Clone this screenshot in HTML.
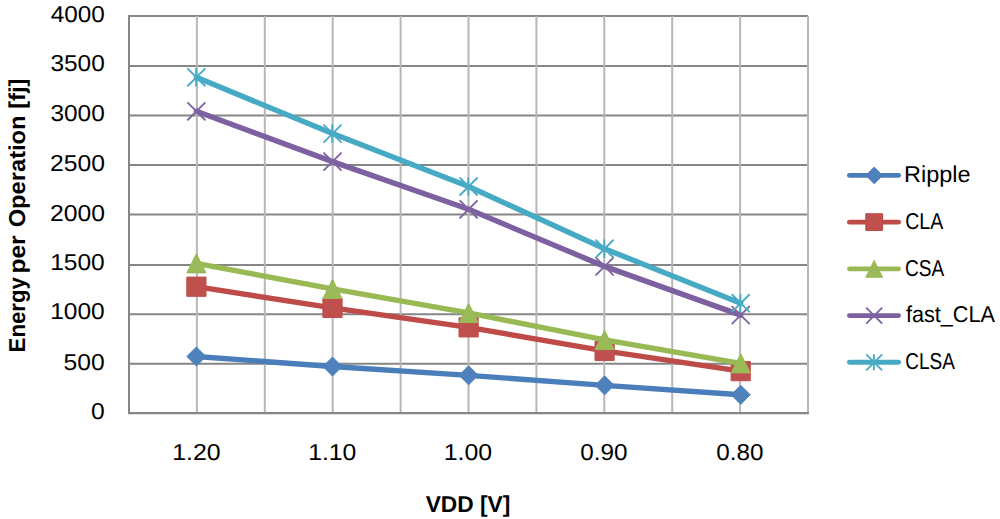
<!DOCTYPE html>
<html><head><meta charset="utf-8"><style>
html,body{margin:0;padding:0;background:#fff;}
body{width:1000px;height:519px;overflow:hidden;}
svg{display:block;}
text{font-family:"Liberation Sans",sans-serif;fill:#000;text-rendering:geometricPrecision;}
.b{font-weight:bold;}
</style></head><body>
<svg width="1000" height="519" viewBox="0 0 1000 519">
<rect width="1000" height="519" fill="#fff"/>
<line x1="128.00" y1="15.90" x2="808.00" y2="15.90" stroke="#868686" stroke-width="2"/>
<line x1="128.00" y1="66.10" x2="808.00" y2="66.10" stroke="#868686" stroke-width="2"/>
<line x1="128.00" y1="115.40" x2="808.00" y2="115.40" stroke="#868686" stroke-width="2"/>
<line x1="128.00" y1="164.90" x2="808.00" y2="164.90" stroke="#868686" stroke-width="2"/>
<line x1="128.00" y1="214.40" x2="808.00" y2="214.40" stroke="#868686" stroke-width="2"/>
<line x1="128.00" y1="264.90" x2="808.00" y2="264.90" stroke="#868686" stroke-width="2"/>
<line x1="128.00" y1="314.30" x2="808.00" y2="314.30" stroke="#868686" stroke-width="2"/>
<line x1="128.00" y1="363.70" x2="808.00" y2="363.70" stroke="#868686" stroke-width="2"/>
<line x1="196.90" y1="15.90" x2="196.90" y2="413.10" stroke="#B7B7B7" stroke-width="2"/>
<line x1="264.80" y1="15.90" x2="264.80" y2="413.10" stroke="#B7B7B7" stroke-width="2"/>
<line x1="332.70" y1="15.90" x2="332.70" y2="413.10" stroke="#B7B7B7" stroke-width="2"/>
<line x1="400.60" y1="15.90" x2="400.60" y2="413.10" stroke="#B7B7B7" stroke-width="2"/>
<line x1="468.50" y1="15.90" x2="468.50" y2="413.10" stroke="#B7B7B7" stroke-width="2"/>
<line x1="536.40" y1="15.90" x2="536.40" y2="413.10" stroke="#B7B7B7" stroke-width="2"/>
<line x1="604.30" y1="15.90" x2="604.30" y2="413.10" stroke="#B7B7B7" stroke-width="2"/>
<line x1="672.20" y1="15.90" x2="672.20" y2="413.10" stroke="#B7B7B7" stroke-width="2"/>
<line x1="740.10" y1="15.90" x2="740.10" y2="413.10" stroke="#B7B7B7" stroke-width="2"/>
<line x1="808.00" y1="15.90" x2="808.00" y2="413.10" stroke="#B7B7B7" stroke-width="2"/>
<line x1="129.00" y1="14.90" x2="129.00" y2="414.10" stroke="#868686" stroke-width="2"/>
<line x1="128.00" y1="413.10" x2="809.00" y2="413.10" stroke="#868686" stroke-width="2.4"/>
<polyline points="196.40,356.50 332.50,366.55 468.60,375.35 604.60,385.35 740.70,394.75" fill="none" stroke="#4A7EBB" stroke-width="5.4" stroke-linejoin="round" stroke-linecap="round"/>
<path d="M196.40 347.00L205.90 356.50L196.40 366.00L186.90 356.50Z" fill="#4F81BD" stroke="#4A7EBB" stroke-width="1.0" stroke-linejoin="round"/>
<path d="M332.50 357.05L342.00 366.55L332.50 376.05L323.00 366.55Z" fill="#4F81BD" stroke="#4A7EBB" stroke-width="1.0" stroke-linejoin="round"/>
<path d="M468.60 365.85L478.10 375.35L468.60 384.85L459.10 375.35Z" fill="#4F81BD" stroke="#4A7EBB" stroke-width="1.0" stroke-linejoin="round"/>
<path d="M604.60 375.85L614.10 385.35L604.60 394.85L595.10 385.35Z" fill="#4F81BD" stroke="#4A7EBB" stroke-width="1.0" stroke-linejoin="round"/>
<path d="M740.70 385.25L750.20 394.75L740.70 404.25L731.20 394.75Z" fill="#4F81BD" stroke="#4A7EBB" stroke-width="1.0" stroke-linejoin="round"/>
<polyline points="196.40,286.70 332.50,307.90 468.60,327.35 604.60,350.85 740.70,371.15" fill="none" stroke="#BE4B48" stroke-width="5.4" stroke-linejoin="round" stroke-linecap="round"/>
<rect x="186.80" y="277.10" width="19.20" height="19.20" fill="#C0504D" stroke="#BE4B48" stroke-width="1.0" stroke-linejoin="round"/>
<rect x="322.90" y="298.30" width="19.20" height="19.20" fill="#C0504D" stroke="#BE4B48" stroke-width="1.0" stroke-linejoin="round"/>
<rect x="459.00" y="317.75" width="19.20" height="19.20" fill="#C0504D" stroke="#BE4B48" stroke-width="1.0" stroke-linejoin="round"/>
<rect x="595.00" y="341.25" width="19.20" height="19.20" fill="#C0504D" stroke="#BE4B48" stroke-width="1.0" stroke-linejoin="round"/>
<rect x="731.10" y="361.55" width="19.20" height="19.20" fill="#C0504D" stroke="#BE4B48" stroke-width="1.0" stroke-linejoin="round"/>
<polyline points="196.40,263.30 332.50,288.90 468.60,312.95 604.60,339.95 740.70,363.30" fill="none" stroke="#98B954" stroke-width="5.4" stroke-linejoin="round" stroke-linecap="round"/>
<path d="M196.40 253.70L206.00 272.90L186.80 272.90Z" fill="#9BBB59" stroke="#98B954" stroke-width="1.0" stroke-linejoin="round"/>
<path d="M332.50 279.30L342.10 298.50L322.90 298.50Z" fill="#9BBB59" stroke="#98B954" stroke-width="1.0" stroke-linejoin="round"/>
<path d="M468.60 303.35L478.20 322.55L459.00 322.55Z" fill="#9BBB59" stroke="#98B954" stroke-width="1.0" stroke-linejoin="round"/>
<path d="M604.60 330.35L614.20 349.55L595.00 349.55Z" fill="#9BBB59" stroke="#98B954" stroke-width="1.0" stroke-linejoin="round"/>
<path d="M740.70 353.70L750.30 372.90L731.10 372.90Z" fill="#9BBB59" stroke="#98B954" stroke-width="1.0" stroke-linejoin="round"/>
<polyline points="196.40,111.30 332.50,161.60 468.60,209.30 604.60,266.40 740.70,315.10" fill="none" stroke="#7D60A0" stroke-width="5.4" stroke-linejoin="round" stroke-linecap="round"/>
<path d="M187.92 102.82L204.88 119.78M204.88 102.82L187.92 119.78" stroke="#8064A2" stroke-width="1.9" stroke-linecap="round" fill="none"/>
<path d="M324.02 153.12L340.98 170.08M340.98 153.12L324.02 170.08" stroke="#8064A2" stroke-width="1.9" stroke-linecap="round" fill="none"/>
<path d="M460.12 200.82L477.08 217.78M477.08 200.82L460.12 217.78" stroke="#8064A2" stroke-width="1.9" stroke-linecap="round" fill="none"/>
<path d="M596.12 257.92L613.08 274.88M613.08 257.92L596.12 274.88" stroke="#8064A2" stroke-width="1.9" stroke-linecap="round" fill="none"/>
<path d="M732.22 306.62L749.18 323.58M749.18 306.62L732.22 323.58" stroke="#8064A2" stroke-width="1.9" stroke-linecap="round" fill="none"/>
<polyline points="196.40,77.30 332.50,133.60 468.60,186.50 604.60,248.75 740.70,303.20" fill="none" stroke="#46AAC5" stroke-width="5.4" stroke-linejoin="round" stroke-linecap="round"/>
<path d="M187.92 68.82L204.88 85.78M204.88 68.82L187.92 85.78M196.10 68.82L196.10 85.78" stroke="#4BACC6" stroke-width="1.9" stroke-linecap="round" fill="none"/>
<path d="M324.02 125.12L340.98 142.08M340.98 125.12L324.02 142.08M332.20 125.12L332.20 142.08" stroke="#4BACC6" stroke-width="1.9" stroke-linecap="round" fill="none"/>
<path d="M460.12 178.02L477.08 194.98M477.08 178.02L460.12 194.98M468.30 178.02L468.30 194.98" stroke="#4BACC6" stroke-width="1.9" stroke-linecap="round" fill="none"/>
<path d="M596.12 240.27L613.08 257.23M613.08 240.27L596.12 257.23M604.30 240.27L604.30 257.23" stroke="#4BACC6" stroke-width="1.9" stroke-linecap="round" fill="none"/>
<path d="M732.22 294.72L749.18 311.68M749.18 294.72L732.22 311.68M740.40 294.72L740.40 311.68" stroke="#4BACC6" stroke-width="1.9" stroke-linecap="round" fill="none"/>
<line x1="849.45" y1="175.40" x2="898.55" y2="175.40" stroke="#4A7EBB" stroke-width="4.9" stroke-linecap="round"/>
<path d="M874.20 167.10L882.50 175.40L874.20 183.70L865.90 175.40Z" fill="#4F81BD" stroke="#4A7EBB" stroke-width="1.0" stroke-linejoin="round"/>
<line x1="849.45" y1="222.13" x2="898.55" y2="222.13" stroke="#BE4B48" stroke-width="4.9" stroke-linecap="round"/>
<rect x="865.80" y="213.73" width="16.80" height="16.80" fill="#C0504D" stroke="#BE4B48" stroke-width="1.0" stroke-linejoin="round"/>
<line x1="849.45" y1="268.86" x2="898.55" y2="268.86" stroke="#98B954" stroke-width="4.9" stroke-linecap="round"/>
<path d="M874.20 260.46L882.60 277.26L865.80 277.26Z" fill="#9BBB59" stroke="#98B954" stroke-width="1.0" stroke-linejoin="round"/>
<line x1="849.45" y1="315.59" x2="898.55" y2="315.59" stroke="#7D60A0" stroke-width="4.9" stroke-linecap="round"/>
<path d="M866.72 308.11L881.68 323.07M881.68 308.11L866.72 323.07" stroke="#8064A2" stroke-width="1.9" stroke-linecap="round" fill="none"/>
<line x1="849.45" y1="362.32" x2="898.55" y2="362.32" stroke="#46AAC5" stroke-width="4.9" stroke-linecap="round"/>
<path d="M866.72 354.84L881.68 369.80M881.68 354.84L866.72 369.80M873.90 354.84L873.90 369.80" stroke="#4BACC6" stroke-width="1.9" stroke-linecap="round" fill="none"/>
<text style="font-size:23.0px" transform="translate(50.63 22.00) scale(1.0572 1)">4000</text>
<text style="font-size:23.0px" transform="translate(50.43 71.20) scale(1.0625 1)">3500</text>
<text style="font-size:23.0px" transform="translate(50.43 120.70) scale(1.0625 1)">3000</text>
<text style="font-size:23.0px" transform="translate(49.90 171.20) scale(1.0747 1)">2500</text>
<text style="font-size:23.0px" transform="translate(49.90 220.60) scale(1.0747 1)">2000</text>
<text style="font-size:23.0px" transform="translate(50.14 270.00) scale(1.0678 1)">1500</text>
<text style="font-size:23.0px" transform="translate(50.14 319.40) scale(1.0678 1)">1000</text>
<text style="font-size:23.0px" transform="translate(63.60 370.00) scale(1.0727 1)">500</text>
<text style="font-size:23.0px" transform="translate(91.04 419.35) scale(1.0725 1)">0</text>
<text style="font-size:23.0px" transform="translate(172.13 459.90) scale(1.0819 1)">1.20</text>
<text style="font-size:23.0px" transform="translate(308.15 459.90) scale(1.0774 1)">1.10</text>
<text style="font-size:23.0px" transform="translate(443.71 459.90) scale(1.0816 1)">1.00</text>
<text style="font-size:23.0px" transform="translate(580.18 459.90) scale(1.0549 1)">0.90</text>
<text style="font-size:23.0px" transform="translate(716.18 459.90) scale(1.0549 1)">0.80</text>
<text style="font-size:23.0px" transform="translate(904.01 181.90) scale(1.0201 1)">Ripple</text>
<text style="font-size:23.0px" transform="translate(905.16 228.70) scale(0.8499 1)">CLA</text>
<text style="font-size:23.0px" transform="translate(904.91 275.50) scale(0.8285 1)">CSA</text>
<text style="font-size:23.0px" transform="translate(905.89 322.30) scale(0.9421 1)">fast_CLA</text>
<text style="font-size:23.0px" transform="translate(905.27 369.10) scale(0.8239 1)">CLSA</text>
<text class="b" style="font-size:23.0px" transform="translate(425.69 512.00) scale(0.9887 1)">VDD [V]</text>
<text class="b" style="font-size:23.0px" transform="translate(25.00 352.42) rotate(-90) scale(0.9654 1)">Energy</text>
<text class="b" style="font-size:23.0px" transform="translate(25.00 273.49) rotate(-90) scale(1.0618 1)">per</text>
<text class="b" style="font-size:23.0px" transform="translate(25.00 227.36) rotate(-90) scale(1.0305 1)">Operation [fj]</text>
</svg>
</body></html>
